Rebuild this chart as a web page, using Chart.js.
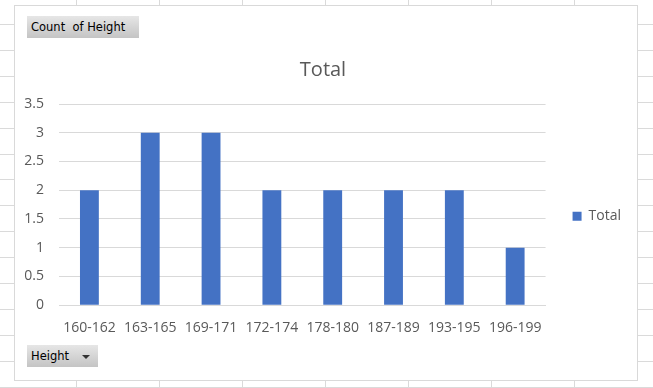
<!DOCTYPE html>
<html>
<head>
<meta charset="utf-8">
<script src="https://cdn.jsdelivr.net/npm/chart.js@4"></script>
<style>
  html, body { margin: 0; padding: 0; }
  body {
    width: 653px; height: 388px; overflow: hidden; position: relative;
    background-color: #fff;
    background-image:
      repeating-linear-gradient(to right, transparent 0, transparent 76px, #dadada 76px, #dadada 77px, transparent 77px, transparent 83px),
      repeating-linear-gradient(to bottom, transparent 0, transparent 24px, #dadada 24px, #dadada 25px, transparent 25px, transparent 25.9px);
  }
  #box {
    position: absolute; left: 14px; top: 5px; width: 622px; height: 374px;
    background: #fff; border: 1px solid #d9d9d9;
  }
  canvas { position: absolute; left: 0; top: 0; }
  .pivot {
    position: absolute; height: 22px; line-height: 22px;
    font-family: "DejaVu Sans", sans-serif; font-size: 11.5px; color: #000;
    background: linear-gradient(to bottom, #e6e6e6, #c4c4c4);
    padding-left: 4px; box-sizing: border-box;
  }
  .arrow {
    position: absolute; right: 8px; top: 10px; width: 0; height: 0;
    border-left: 4px solid transparent; border-right: 4px solid transparent; border-top: 4px solid #333;
  }
</style>
</head>
<body>
<div id="box"><canvas id="c" width="622" height="374"></canvas></div>
<div class="pivot" style="left:27px;top:16px;width:112px;">Count&nbsp; of Height</div>
<div class="pivot" style="left:27px;top:345px;width:71px;">Height<span class="arrow"></span></div>
<script>
const categories = ["160-162", "163-165", "169-171", "172-174", "178-180", "187-189", "193-195", "196-199"];
const totals = [2, 3, 3, 2, 2, 2, 2, 1];
const yTicks = [0, 0.5, 1, 1.5, 2, 2.5, 3, 3.5];

const textColor = "#595959";
const font = "'Open Sans', sans-serif";

new Chart(document.getElementById("c"), {
  type: "bar",
  data: {
    labels: categories,
    datasets: [{
      label: "Total",
      data: totals,
      backgroundColor: "#4472C4",
      barPercentage: 0.62,
      categoryPercentage: 0.5
    }]
  },
  options: {
    responsive: false,
    animation: false,
    layout: { padding: { left: 0, right: 6, top: 0, bottom: 38 } },
    plugins: {
      title: {
        display: true,
        text: "Total",
        color: textColor,
        font: { family: font, size: 20, weight: "normal" },
        padding: { top: 52, bottom: 22 }
      },
      legend: {
        position: "right",
        title: { display: true, text: " ", padding: { top: 0, bottom: 70 } },
        labels: {
          color: textColor,
          font: { family: font, size: 14 },
          boxWidth: 9, boxHeight: 9,
          padding: 27
        }
      },
      tooltip: { enabled: false }
    },
    scales: {
      x: {
        grid: { display: false },
        border: { color: "#d9d9d9" },
        ticks: { color: textColor, font: { family: font, size: 14 }, maxRotation: 0, padding: 6 }
      },
      y: {
        min: 0, max: 3.5,
        afterBuildTicks: s => { s.ticks = yTicks.map(v => ({ value: v })); },
        afterFit: s => { s.width = 44; },
        grid: { color: "#d9d9d9", drawTicks: false },
        border: { display: false },
        ticks: { color: textColor, font: { family: font, size: 14 }, padding: 15, callback: v => String(v) }
      }
    }
  }
});
</script>
</body>
</html>
